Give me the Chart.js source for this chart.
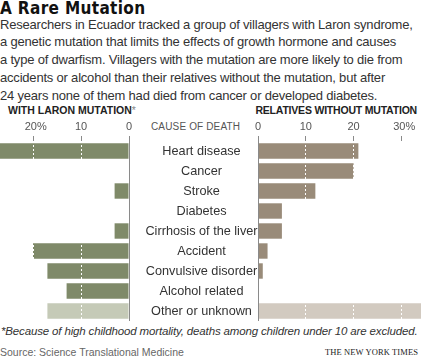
<!DOCTYPE html>
<html>
<head>
<meta charset="utf-8">
<script src="https://cdn.jsdelivr.net/npm/chart.js@4"></script>
<style>
body { margin: 0; width: 421px; height: 358px; position: relative; overflow: hidden; background: #fff; font-family: "Liberation Sans", Arial, sans-serif; color: #222; }
.abs { position: absolute; white-space: nowrap; }
#title { left: 0; top: -0.5px; font: bold 17px/17px "DejaVu Sans Condensed", "DejaVu Sans", sans-serif; font-stretch: condensed; letter-spacing: 0.35px; color: #111; }
#intro { left: 0; top: 15.5px; font-size: 13px; line-height: 17.9px; color: #333; letter-spacing: -0.2px; }
.head { top: 105px; font-weight: bold; font-size: 10.5px; line-height: 11px; color: #222; }
.head span { font-weight: normal; color: #888; }
#cause { left: 151px; top: 121px; font-size: 10px; line-height: 11px; color: #555; letter-spacing: 0.15px; }
#note { left: 1px; top: 325px; font-style: italic; font-size: 11.5px; line-height: 13px; color: #333; letter-spacing: -0.15px; }
#source { left: 0; top: 346px; font-size: 10.5px; line-height: 12px; color: #666; }
#nyt { right: 3px; top: 347px; font: 8.5px/10px "Liberation Serif", serif; color: #222; letter-spacing: 0.1px; }
canvas { position: absolute; }
</style>
</head>
<body>
<div class="abs" id="title">A Rare Mutation</div>
<div class="abs" id="intro">Researchers in Ecuador tracked a group of villagers with Laron syndrome,<br>a genetic mutation that limits the effects of growth hormone and causes<br>a type of dwarfism. Villagers with the mutation are more likely to die from<br>accidents or alcohol than their relatives without the mutation, but after<br>24 years none of them had died from cancer or developed diabetes.</div>
<div class="abs head" style="left:8px; letter-spacing:0">WITH LARON MUTATION<span>*</span></div>
<div class="abs head" style="right:4px; letter-spacing:-0.2px">RELATIVES WITHOUT MUTATION</div>
<div class="abs" id="cause">CAUSE OF DEATH</div>
<canvas id="leftChart" width="258" height="209" style="left:0;top:112px"></canvas>
<canvas id="rightChart" width="173" height="209" style="left:248px;top:112px"></canvas>
<div class="abs" id="note">*Because of high childhood mortality, deaths among children under 10 are excluded.</div>
<div class="abs" id="source">Source: Science Translational Medicine</div>
<div class="abs" id="nyt">THE NEW YORK TIMES</div>
<script>
// Data (percent of deaths)
const causes = ['Heart disease', 'Cancer', 'Stroke', 'Diabetes', 'Cirrhosis of the liver',
                'Accident', 'Convulsive disorder', 'Alcohol related', 'Other or unknown'];
const withMutation = [28, 0, 3, 0, 3, 20, 17, 13, 17];
const relatives = [21, 20, 12, 5, 5, 2, 1, 0, 35];
const leftTicks = [0, 10, 20];
const rightTicks = [0, 10, 20, 30];

const leftColors = causes.map((c, i) => i === causes.length - 1 ? '#c5cab7' : '#7f8a69');
const rightColors = causes.map((c, i) => i === causes.length - 1 ? '#d2cac0' : '#998b79');

const labelFont = '12.7px "Liberation Sans", Arial, sans-serif';
const tickFont = { family: '"Liberation Sans", Arial, sans-serif', size: 11 };

// centre the cause labels in the 129px gap between the two charts
const measure = document.createElement('canvas').getContext('2d');
measure.font = labelFont;
const widest = Math.max(...causes.map(c => measure.measureText(c).width));
const labelPad = (129 - widest) / 2;

function xScale(ticks, max, reverse) {
    const last = ticks[ticks.length - 1];
    return {
        type: 'linear',
        position: 'top',
        min: 0,
        max: max,
        reverse: reverse,
        afterBuildTicks: s => { s.ticks = ticks.map(v => ({ value: v })); },
        afterFit: s => { s.height = 29; },
        ticks: {
            font: tickFont,
            color: '#555',
            padding: 2,
            maxRotation: 0,
            callback: v => v === last ? '\u2002' + v + '%' : String(v)
        },
        grid: {
            z: 1,
            color: c => c.tick && c.tick.value === 0 ? '#8a8a8a' : '#ffffff',
            tickColor: '#8a8a8a',
            tickLength: 5,
            lineWidth: 1
        },
        border: {
            display: false,
            dash: c => c.tick && c.tick.value === 0 ? [] : [2, 2]
        }
    };
}

const common = {
    responsive: false,
    animation: false,
    devicePixelRatio: 1,
    indexAxis: 'y',
    plugins: { legend: { display: false }, tooltip: { enabled: false } }
};

new Chart(document.getElementById('leftChart'), {
    type: 'bar',
    data: {
        labels: causes,
        datasets: [{ data: withMutation, backgroundColor: leftColors, barPercentage: 0.77, categoryPercentage: 1 }]
    },
    options: {
        ...common,
        layout: { padding: 0 },
        scales: {
            x: xScale(leftTicks, 129 / 4.8, true),
            y: {
                type: 'category',
                position: 'right',
                afterFit: s => { s.width = 129; s.paddingTop = 0; s.paddingBottom = 0; },
                grid: { display: false },
                border: { display: false },
                ticks: {
                    font: { family: '"Liberation Sans", Arial, sans-serif', size: 12.7 },
                    color: '#333',
                    autoSkip: false,
                    crossAlign: 'center',
                    padding: labelPad
                }
            }
        }
    }
});

new Chart(document.getElementById('rightChart'), {
    type: 'bar',
    data: {
        labels: causes,
        datasets: [{ data: relatives, backgroundColor: rightColors, barPercentage: 0.77, categoryPercentage: 1 }]
    },
    options: {
        ...common,
        layout: { padding: { left: 10, right: 0, top: 0, bottom: 0 } },
        scales: {
            x: xScale(rightTicks, 163 / 4.78, false),
            y: { type: 'category', display: false }
        }
    }
});
</script>
</body>
</html>
